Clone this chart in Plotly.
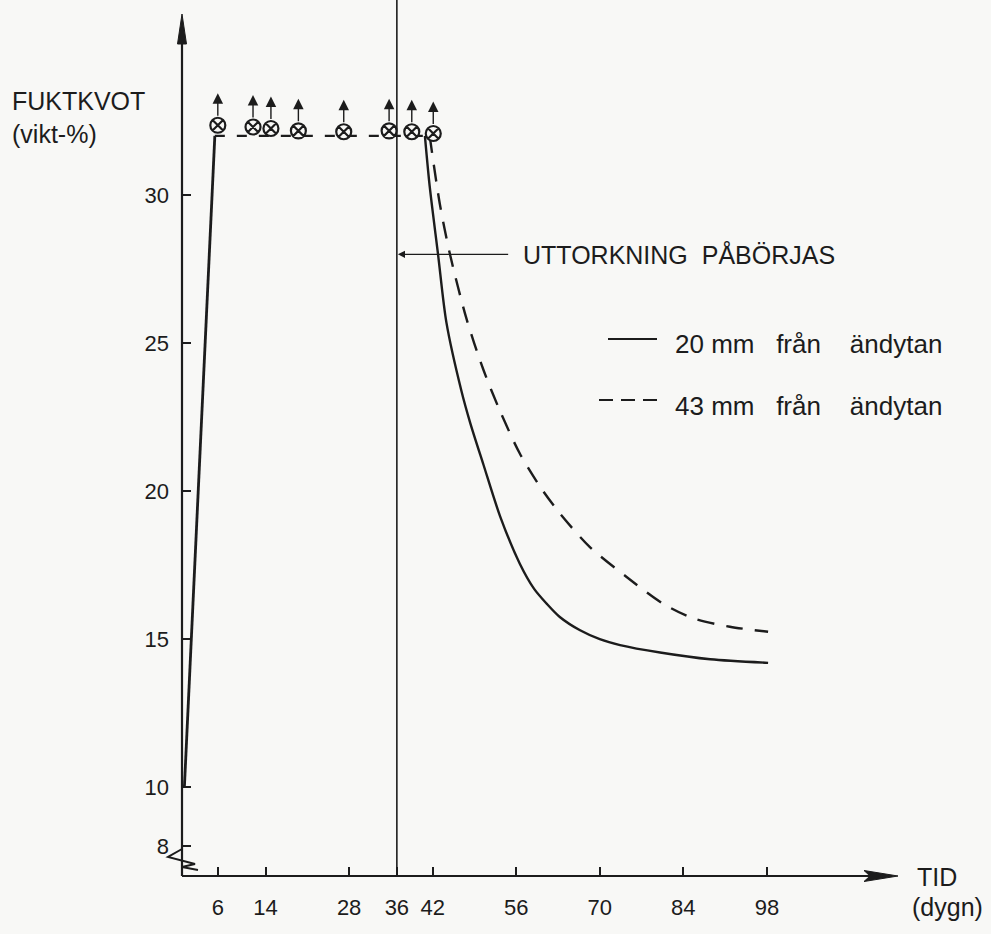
import plotly.graph_objects as go

# ---------------- data ----------------
rise_days = [0.4, 5.5]
rise_vals = [10.0, 32.0]

flat_days = [5.5, 41.5]
flat_vals = [32.0, 32.0]

solid_days = [40.7, 41.5, 42.9, 44.3, 46.8, 48.3, 50.5, 53.3, 56.6, 59.0, 61.1, 63.3, 66.7, 70.0, 73.4, 80.1, 88.5, 98.2]
solid_vals = [32.0, 30.3, 28.0, 25.7, 23.4, 22.3, 20.9, 19.15, 17.55, 16.7, 16.2, 15.75, 15.3, 15.0, 14.8, 14.55, 14.32, 14.2]

dashed_days = [41.5, 43.2, 44.9, 47.7, 50.5, 53.3, 56.6, 60.0, 63.3, 68.3, 74.5, 80.6, 85.7, 91.8, 98.2]
dashed_vals = [32.0, 29.7, 28.0, 25.8, 24.1, 22.7, 21.27, 20.15, 19.25, 18.12, 17.1, 16.2, 15.7, 15.42, 15.25]

marker_days = [6.0, 11.9, 14.9, 19.5, 27.1, 34.7, 38.5, 42.1]
marker_vals = [32.36, 32.3, 32.25, 32.17, 32.14, 32.17, 32.14, 32.08]

x_ticks = [6, 14, 28, 36, 42, 56, 70, 84, 98]
y_ticks = [8, 10, 15, 20, 25, 30]

start_day = 36
start_val = 28

NB = "\u00a0"
series_names = ["20 mm" + NB * 3 + "från" + NB * 4 + "ändytan",
                "43 mm" + NB * 3 + "från" + NB * 4 + "ändytan"]

# ---------------- layout constants ----------------
W, H = 991, 934
ML, MR, MT, MB = 182, 94, 0, 58
XR = [0, 119.8]
YR = [7, 36.59]
INK = "#1c1c1c"
BG = "#f8f8f6"
FONT = "Liberation Sans"


def px(x):
    return (x - ML) / (W - ML - MR)


def py(y):
    return 1 - (y - MT) / (H - MT - MB)


fig = go.Figure()

# rising parts (both series)
fig.add_trace(go.Scatter(x=rise_days, y=rise_vals, mode="lines",
                         line=dict(color=INK, width=2.8), showlegend=False, hoverinfo="skip"))
# flat dashed level
fig.add_trace(go.Scatter(x=flat_days, y=flat_vals, mode="lines",
                         line=dict(color=INK, width=2.2, dash="10px,12px"), showlegend=False, hoverinfo="skip"))
# drying curves
fig.add_trace(go.Scatter(x=solid_days, y=solid_vals, mode="lines", name=series_names[0],
                         line=dict(color=INK, width=2.4, shape="spline", smoothing=0.8), showlegend=False))
fig.add_trace(go.Scatter(x=dashed_days, y=dashed_vals, mode="lines", name=series_names[1],
                         line=dict(color=INK, width=2.4, dash="17px,12px", shape="spline", smoothing=0.8),
                         showlegend=False))
# measurement markers
fig.add_trace(go.Scatter(x=marker_days, y=marker_vals, mode="markers",
                         marker=dict(symbol="circle-x", size=15, color=BG,
                                     line=dict(color=INK, width=2.2)),
                         showlegend=False, hoverinfo="skip"))

annotations = []
# arrows above markers
for d, v in zip(marker_days, marker_vals):
    annotations.append(dict(x=d, y=v, xref="x", yref="y", text="", showarrow=True,
                            ax=0, ay=24, yshift=32, arrowhead=2, arrowsize=1.5,
                            arrowwidth=1.4, arrowcolor=INK, standoff=0))

# "UTTORKNING PÅBÖRJAS" pointer
annotations.append(dict(x=start_day, y=start_val, xref="x", yref="y", text="",
                        showarrow=True, axref="x", ayref="y", ax=54.9, ay=start_val,
                        arrowhead=2, arrowsize=1.1, arrowwidth=1.3, arrowcolor=INK, standoff=1))


def label(text, x, y, anchor="left", size=25, family=FONT):
    annotations.append(dict(x=px(x), y=py(y), xref="paper", yref="paper", text=text,
                            showarrow=False, xanchor=anchor, yanchor="middle",
                            font=dict(family=family, size=size, color=INK)))


label("UTTORKNING" + NB * 2 + "PÅBÖRJAS", 521, 254)
label("FUKTKVOT", 10, 101)
label("(vikt-%)", 10, 134)
label("TID", 915, 877)
label("(dygn)", 910, 907)
label(series_names[0], 673, 344, size=26)
label(series_names[1], 673, 406, size=26)

shapes = []
# axes (paper-referenced so they are not clipped at the plot edge)
shapes.append(dict(type="line", xref="paper", yref="paper", x0=0, y0=0, x1=px(870), y1=0,
                   line=dict(color=INK, width=2.2)))
shapes.append(dict(type="path", xref="paper", yref="paper", xsizemode="pixel", ysizemode="pixel",
                   xanchor=px(898), yanchor=0, path="M0,0 L-34,5.5 L-28,0 L-34,-5.5 Z",
                   fillcolor=INK, line=dict(color=INK, width=1)))
shapes.append(dict(type="line", xref="paper", yref="paper", x0=0, y0=0, x1=0, y1=py(40),
                   line=dict(color=INK, width=2.2)))
shapes.append(dict(type="path", xref="paper", yref="paper", xsizemode="pixel", ysizemode="pixel",
                   xanchor=0, yanchor=py(14), path="M0,0 L-4.5,-30 L4.5,-30 Z",
                   fillcolor=INK, line=dict(color=INK, width=1)))
# axis break zigzag
shapes.append(dict(type="path", xref="paper", yref="paper", xsizemode="pixel", ysizemode="pixel",
                   xanchor=0, yanchor=0, path="M0,27 L-14,19 L13,12 L0,9 L16,6",
                   line=dict(color=INK, width=2)))
# vertical line at day 36
shapes.append(dict(type="line", xref="x", yref="y", x0=start_day, y0=YR[0], x1=start_day, y1=YR[1],
                   line=dict(color=INK, width=1.6)))
# legend samples
shapes.append(dict(type="line", xref="paper", yref="paper", x0=px(608), y0=py(339), x1=px(657), y1=py(339),
                   line=dict(color=INK, width=2)))
shapes.append(dict(type="line", xref="paper", yref="paper", x0=px(599), y0=py(400), x1=px(657), y1=py(400),
                   line=dict(color=INK, width=2.2, dash="14px,8px")))

axis_common = dict(showline=False, showgrid=False, zeroline=False, ticks="inside",
                   ticklen=9, tickwidth=1.6, tickcolor=INK,
                   tickfont=dict(family=FONT, size=22, color=INK))

fig.update_layout(
    width=W, height=H,
    margin=dict(l=ML, r=MR, t=MT, b=MB),
    paper_bgcolor=BG, plot_bgcolor=BG,
    xaxis=dict(range=XR, tickvals=x_ticks, ticklabelstandoff=16, **axis_common),
    yaxis=dict(range=YR, tickvals=y_ticks, ticklabelstandoff=12, **axis_common),
    annotations=annotations, shapes=shapes, showlegend=False,
)

fig.write_html("out.html", config={"displayModeBar": False},
               post_script="document.body.style.margin='0px';document.body.style.background='#f8f8f6';")
